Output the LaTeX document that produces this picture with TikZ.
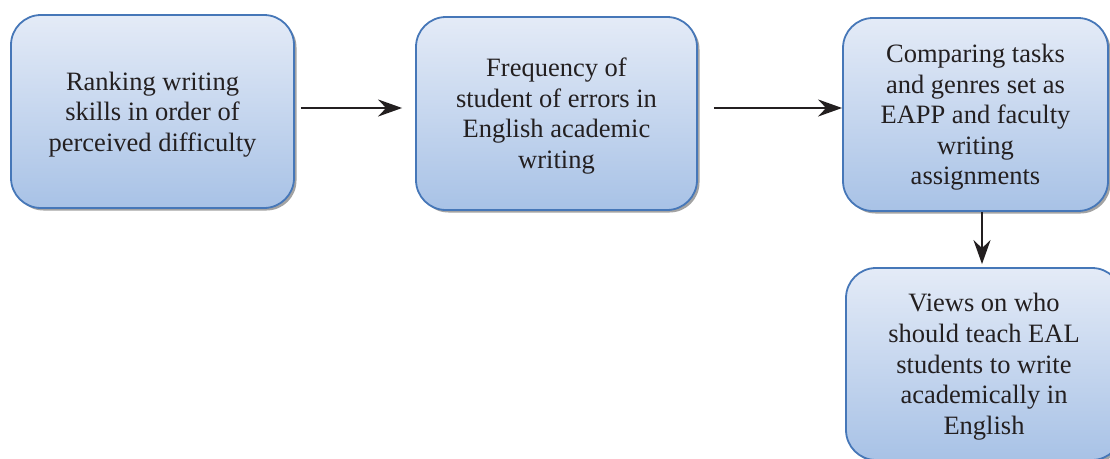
\documentclass[tikz,border=0pt]{standalone}
\usepackage{fontspec}
\setmainfont{Liberation Serif}
\usetikzlibrary{arrows.meta,shadows}
\definecolor{boxtop}{HTML}{E4EBF7}
\definecolor{boxbot}{HTML}{A8C2E6}
\definecolor{boxline}{HTML}{4677B8}
\definecolor{ink}{HTML}{231F20}
% centred block of lines, lowered a little while keeping its measured extent
\newcommand{\boxtext}[1]{\raisebox{-3pt}[\height][\depth]{\begin{tabular}{@{}c@{}}#1\end{tabular}}}
\begin{document}
\begin{tikzpicture}[x=1pt,y=-1pt,
  stepbox/.style={rectangle, rounded corners=30pt, draw=boxline, line width=1.8pt,
    top color=boxtop, bottom color=boxbot, text=ink,
    font=\fontsize{26.5}{30.6}\selectfont, inner sep=0pt,
    drop shadow={shadow xshift=2.5pt, shadow yshift=-2.5pt, fill=black!45, opacity=0.8}},
  arr/.style={draw=ink, line width=2.6pt, -{Stealth[length=24pt,width=17pt,inset=8pt]}}]
\clip (0,0) rectangle (1110,458);
\fill[white] (0,0) rectangle (1110,458);

\node[stepbox, minimum width=283pt, minimum height=193pt] (b1) at (152.5,111.5)
  {\boxtext{Ranking writing\\skills in order of\\perceived difficulty}};
\node[stepbox, minimum width=281pt, minimum height=193pt] (b2) at (556.5,113.5)
  {\boxtext{Frequency of\\student of errors in\\English academic\\writing}};
\node[stepbox, minimum width=265pt, minimum height=193pt] (b3) at (975.5,114.5)
  {\boxtext{Comparing tasks\\and genres set as\\EAPP and faculty\\writing\\assignments}};
\node[stepbox, minimum width=276pt, minimum height=192pt] (b4) at (984,364)
  {\boxtext{Views on who\\should teach EAL\\students to write\\academically in\\English}};

\draw[arr] ([xshift=6pt,yshift=3.5pt]b1.east) coordinate (s1) -- ([xshift=-13pt]b2.west |- s1);
\draw[arr] ([xshift=16pt,yshift=5.5pt]b2.east) coordinate (s2) -- (b3.west |- s2);
\draw[arr] ([xshift=6.5pt]b3.south) coordinate (s3) -- ([yshift=3pt]s3 |- b4.north);
\end{tikzpicture}
\end{document}
